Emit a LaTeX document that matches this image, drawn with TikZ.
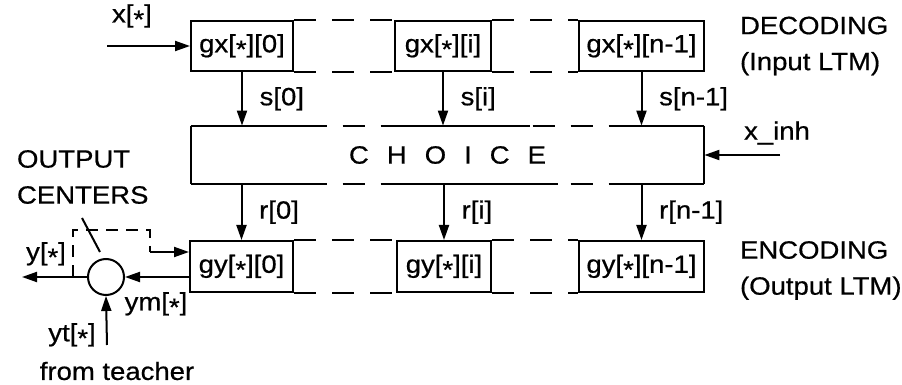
\documentclass[tikz,border=0pt]{standalone}
\usepackage{fontspec}
\setmainfont[FakeStretch=1.1,FakeBold=0.6]{Liberation Sans}
\usetikzlibrary{positioning,calc,arrows.meta}

\newcommand{\wild}{\raisebox{-0.22em}{*}}
\newcommand{\lsp}{\hspace{9pt}}

\tikzset{
  cell/.style={draw, line width=1pt, minimum height=25pt, inner sep=1pt},
  link/.style={line width=1pt, dash pattern=on 11pt off 8pt},
  shortlink/.style={line width=1pt, dash pattern=on 6pt off 4pt},
  arr/.style={line width=1pt, -{Triangle[length=7.5pt,width=5pt]}},
}

\begin{document}
\begin{tikzpicture}[x=0.5pt,y=-0.5pt,font=\fontsize{12.5pt}{18pt}\selectfont]
\useasboundingbox (0,0) rectangle (902,385);

% decoding row
\node[cell, minimum width=51pt] (gx0) at (242,46) {gx[\wild][0]};
\node[cell, minimum width=48pt] (gxi) at (443,46) {gx[\wild][i]};
\node[cell, minimum width=62.5pt] (gxn) at (641.5,46) {gx[\wild][n-1]};
\draw[link] (gx0.north east) -- (gxi.north west) (gxi.north east) -- (gxn.north west);
\draw[link] (gx0.south east) -- (gxi.south west) (gxi.south east) -- (gxn.south west);
\node[right=14pt of gxn, align=left] (dec) {DECODING\\(Input LTM)};

% input
\coordinate (xin) at (107,46);
\draw[arr] (xin) -- (gx0.west);
\node[anchor=south west] (xlab) at (105,35) {x[\wild]};

% choice
\node[minimum width=256.5pt, minimum height=29pt] (choice) at (447.5,155) {C\lsp H\lsp O\lsp I\lsp C\lsp E};
\draw[line width=1pt] (choice.north west) -- (choice.south west) (choice.north east) -- (choice.south east);
\draw[link] (choice.north west) -- (choice.north east) (choice.south west) -- (choice.south east);
\draw[line width=1pt] (191,126) -- (305,126) (388,126) -- (530,126) (622,126) -- (704,126);
\draw[line width=1pt] (191,184) -- (310,184) (397,184) -- (558,184) (630,184) -- (704,184);
\coordinate (xinh) at (780,155);
\draw[arr] (xinh) -- (choice.east);
\node (inh) at (777,133) {x\_inh};

% encoding row
\node[cell, minimum width=51.5pt, minimum height=25.5pt] (gy0) at (241.5,266.5) {gy[\wild][0]};
\node[cell, minimum width=47pt, minimum height=25.5pt] (gyi) at (444,266.5) {gy[\wild][i]};
\node[cell, minimum width=62.5pt, minimum height=25.5pt] (gyn) at (641.5,266.5) {gy[\wild][n-1]};
\draw[link] (gy0.north east) -- (gyi.north west) (gyi.north east) -- (gyn.north west);
\draw[link] (gy0.south east) -- (gyi.south west) (gyi.south east) -- (gyn.south west);
\node[right=14pt of gyn, yshift=-2pt, align=left] (enc) {ENCODING\\(Output LTM)};

% s and r lines
\draw[arr] (gx0.south) -- (gx0.south |- choice.north) node[midway, right=5pt] {s[0]};
\draw[arr] (gxi.south) -- (gxi.south |- choice.north) node[midway, right=5pt] {s[i]};
\draw[arr] (gxn.south) -- (gxn.south |- choice.north) node[midway, right=5pt] {s[n-1]};
\draw[arr] (gy0.north |- choice.south) -- (gy0.north) node[midway, right=5pt] {r[0]};
\draw[arr] (gyi.north |- choice.south) -- (gyi.north) node[midway, right=5pt] {r[i]};
\draw[arr] (gyn.north |- choice.south) -- (gyn.north) node[midway, right=5pt] {r[n-1]};

% output centers
\node[circle, draw, line width=1pt, minimum size=18pt, inner sep=0] (sum) at (106,277) {};
\draw[arr] (gy0.west |- sum) -- (sum.east);
\node (ym) at (156,304) {ym[\wild]};
\coordinate (yout) at (22,277);
\draw[arr] (sum.west) -- (yout);
\node (ylab) at (46,254) {y[\wild]};
\coordinate (tap) at (73,277);
\coordinate (fb) at (150,252);
\draw[shortlink] (tap) -- (73,230) -- (150,230) -- (fb);
\draw[arr] (fb) -- (gy0.west |- fb);
\coordinate (yt) at (107,345);
\draw[arr] (yt) -- (sum.south);
\node (ytlab) at (72,335) {yt[\wild]};
\node (teach) at (117,371) {from teacher};
\node[anchor=west, align=left] (oc) at (10,177) {OUTPUT\\CENTERS};
\draw[line width=1pt] (82,218) -- (100,252);
\end{tikzpicture}
\end{document}
